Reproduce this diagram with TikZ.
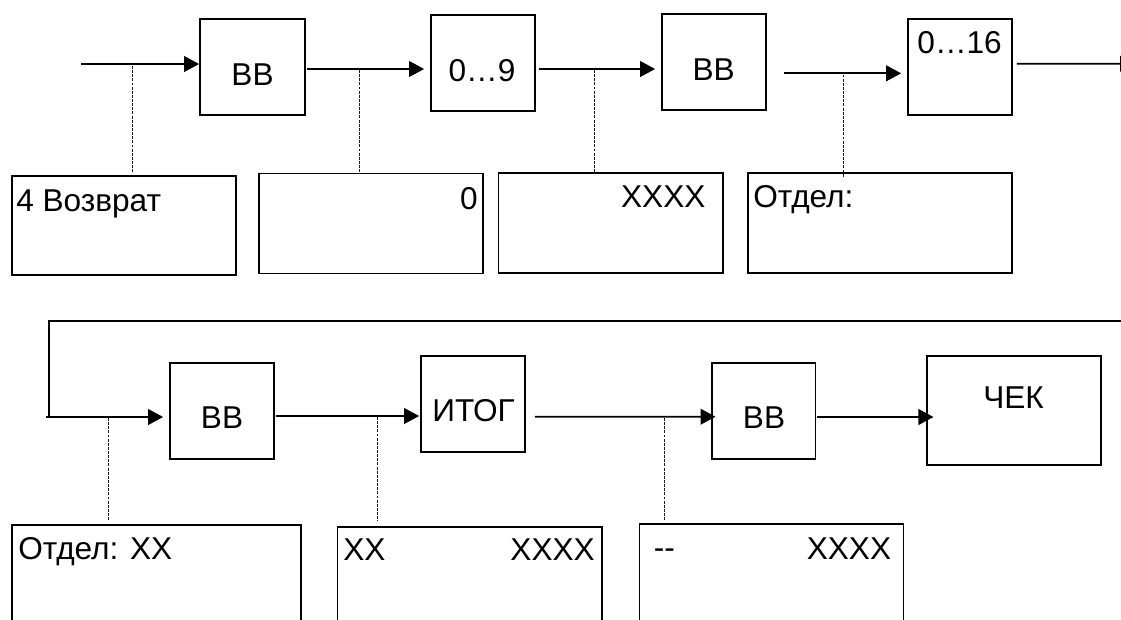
\documentclass[tikz,border=0pt]{standalone}
\usepackage{fontspec}
\setmainfont{Liberation Sans}
\usetikzlibrary{arrows.meta,calc}
\begin{document}
\begin{tikzpicture}[x=0.75pt,y=-0.75pt,
  bx/.style 2 args={draw, line width=1.3pt, inner sep=0pt, minimum width=#1*0.75pt, minimum height=#2*0.75pt},
  txt/.style={inner sep=0pt, font=\fontsize{23.7}{28}\selectfont},
  ln/.style={line width=1.4pt},
  arr/.style={line width=1.4pt, -{Triangle[length=11.25pt,width=11.75pt]}},
  dsh/.style={line width=0.75pt, black!90, dash pattern=on 2.2pt off 0.9pt}]
\useasboundingbox (0,0) rectangle (1121,619);
\fill[white] (0,0) rectangle (1121,619);
\clip (0,0) rectangle (1121,619);

% top row blocks
\node[bx={105}{96}] (b1) at (252.5,67) {};
\node[bx={104}{96}] (b2) at (483,63) {};
\node[bx={104}{96}] (b3) at (714,62.3) {};
\node[bx={104}{96}] (b4) at (960,67) {};
% top row displays
\node[bx={224}{99}] (t1) at (124,225.7) {};
\node[bx={224}{100}] (t2) at (371,223.5) {};
\node[bx={224.4}{100}] (t3) at (610.8,222.7) {};
\node[bx={264}{100}] (t4) at (880,222.7) {};
% bottom row blocks
\node[bx={104}{96.7}] (c1) at (222,411) {};
\node[bx={104}{96.3}] (c2) at (473,403.8) {};
\node[bx={103.6}{96.7}] (c3) at (763.6,411) {};
\node[bx={173.7}{109}] (c4) at (1013.9,410.5) {};
% bottom row displays
\node[bx={289.2}{115}] (u1) at (156.4,582.5) {};
\node[bx={264.5}{113.3}] (u2) at (469.75,583.35) {};
\node[bx={264}{115.7}] (u3) at (771.6,582.15) {};

% texts
\node[txt,anchor=base] (l1) at (252.5,85) {ВВ};
\node[txt,anchor=base] (l2) at (482,81.7) {0…9};
\node[txt,anchor=base] (l3) at (713.7,80) {ВВ};
\node[txt,anchor=base] (l4) at (959.6,53.3) {0…16};
\node[txt,anchor=base west] (l5) at (16,211) {4 Возврат};
\node[txt,anchor=base east] (l6) at (478,209.3) {0};
\node[txt,anchor=base east] (l7) at (705.7,207.3) {XXXX};
\node[txt,anchor=base west] (l8) at (753,207.3) {Отдел:};
\node[txt,anchor=base] (l9) at (222,428.3) {ВВ};
\node[txt,anchor=base] (l10) at (473.6,421.7) {ИТОГ};
\node[txt,anchor=base] (l11) at (764,428.3) {ВВ};
\node[txt,anchor=base] (l12) at (1013.6,408.3) {ЧЕК};
\node[txt,anchor=base west] (l13) at (18,559.3) {Отдел: XX};
\node[txt,anchor=base west] (l14) at (343,560) {XX};
\node[txt,anchor=base east] (l15) at (595,560) {XXXX};
\node[txt,anchor=base west] (l16) at (653.6,558.5) {-{}-};
\node[txt,anchor=base east] (l17) at (891.4,559.3) {XXXX};

% top row connectors
\coordinate (in0) at (81.4,64);
\coordinate (out0) at (1135,63.7);
\draw[arr] (in0) -- (b1.west |- in0);
\draw[arr] ($(b1.east)+(1,2)$) -- ($(b2.west)+(-6,6)$);
\draw[arr] ($(b2.east)+(3,6)$) -- ($(b3.west)+(-6,6.7)$);
\draw[arr] ($(b3.east)+(17.6,11)$) -- ($(b4.west)+(-6,6.3)$);
\draw[arr] ($(b4.east)+(4,-3.3)$) -- (out0);

% bottom row connectors
\coordinate (rtop) at (1130,320.7);
\coordinate (rcorner) at (48.6,417);
\coordinate (in1) at (46,417);
\draw[ln] (rtop) -| (rcorner);
\draw[arr] (in1) -- ($(c1.west)+(-6,6)$);
\draw[arr] ($(c1.east)+(1,5)$) -- ($(c2.west)+(-1,12.2)$);
\draw[arr] ($(c2.east)+(9,12.9)$) -- ($(c3.west)+(4.6,5.7)$);
\draw[arr] ($(c3.east)+(1,6)$) -- ($(c4.west)+(7.3,6.5)$);

% dashed leaders
\coordinate (j1) at (132,66);
\coordinate (j2) at (359,70);
\coordinate (j3) at (594.6,70);
\coordinate (j4) at (843,74.5);
\coordinate (j5) at (108,418);
\coordinate (j6) at (377,417);
\coordinate (j7) at (664.6,418);
\draw[dsh] (j1) -- ($(t1.north -| j1)+(0,-3.3)$);
\draw[dsh] (j2) -- ($(t2.north -| j2)+(0,-1)$);
\draw[dsh] (j3) -- ($(t3.north -| j3)+(0,2.3)$);
\draw[dsh] (j4) -- ($(t4.north -| j4)+(0,5)$);
\draw[dsh] (j5) -- ($(u1.north -| j5)+(0,-3.3)$);
\draw[dsh] (j6) -- ($(u2.north -| j6)+(0,-5)$);
\draw[dsh] (j7) -- ($(u3.north -| j7)+(0,-2.6)$);
\end{tikzpicture}
\end{document}
